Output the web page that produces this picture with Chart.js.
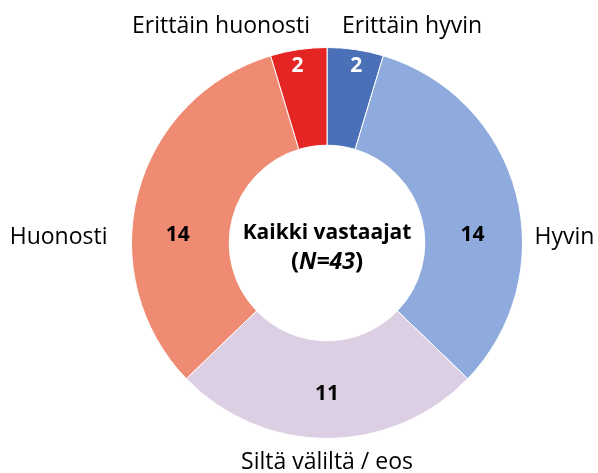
<!DOCTYPE html>
<html>
<head>
<meta charset="utf-8">
<script src="https://cdn.jsdelivr.net/npm/chart.js@4.4.1/dist/chart.umd.min.js"></script>
<style>
  html, body { margin: 0; padding: 0; background: #fff; }
  #wrap { width: 598px; height: 473px; }
</style>
</head>
<body>
<div id="wrap"><canvas id="myChart" width="598" height="473"></canvas></div>
<script>
// data
const categories = ["Erittäin hyvin", "Hyvin", "Siltä väliltä / eos", "Huonosti", "Erittäin huonosti"];
const counts = [2, 14, 11, 14, 2];
const sliceColors = ["#4A70B8", "#8FAADC", "#DDCFE3", "#F08B73", "#E42523"];
const valueColors = ["#fff", "#000", "#000", "#000", "#fff"];
const centerTitle = "Kaikki vastaajat";
const totalN = counts.reduce((a, b) => a + b, 0);

const FONT = "'Open Sans', sans-serif";

// where the value numbers sit: angle from top (deg) and radius fraction (Excel-like)
const valuePos = [
  { ang: 9.4, r: 0.92 },
  { ang: 87, r: 0.745 },
  { ang: 180, r: 0.77 },
  { ang: -87, r: 0.765 },
  { ang: -9.4, r: 0.92 },
];

const labelsPlugin = {
  id: "labelsPlugin",
  afterDraw(chart) {
    const ctx = chart.ctx;
    const arc = chart.getDatasetMeta(0).data[0];
    const cx = arc.x, cy = arc.y, R = arc.outerRadius;
    ctx.save();
    ctx.textBaseline = "middle";

    // numbers inside the ring
    ctx.font = "bold 21px " + FONT;
    ctx.textAlign = "center";
    counts.forEach((v, i) => {
      const a = valuePos[i].ang * Math.PI / 180;
      const r = valuePos[i].r * R;
      ctx.fillStyle = valueColors[i];
      ctx.fillText(String(v), cx + r * Math.sin(a), cy - r * Math.cos(a));
    });

    // category labels outside
    ctx.font = "23px " + FONT;
    ctx.fillStyle = "#000";
    ctx.textAlign = "left";
    ctx.fillText(categories[0], cx + 15, cy - R - 21);
    ctx.fillText(categories[1], cx + R + 12, cy - 6);
    ctx.textAlign = "center";
    ctx.fillText(categories[2], cx, cy + R + 24);
    ctx.textAlign = "right";
    ctx.fillText(categories[3], cx - R - 24, cy - 6);
    ctx.fillText(categories[4], cx - 17, cy - R - 21);

    // center text
    ctx.textAlign = "center";
    ctx.font = "bold 21px " + FONT;
    ctx.fillText(centerTitle, cx, cy - 10);

    const parts = [
      { t: "(", f: "bold 24px " + FONT },
      { t: "N=" + totalN, f: "italic bold 23px " + FONT },
      { t: ")", f: "bold 24px " + FONT },
    ];
    let w = 0;
    parts.forEach(p => { ctx.font = p.f; p.w = ctx.measureText(p.t).width; w += p.w; });
    let x = cx - w / 2;
    ctx.textAlign = "left";
    parts.forEach(p => { ctx.font = p.f; ctx.fillText(p.t, x, cy + 19); x += p.w; });

    ctx.restore();
  },
};

document.addEventListener("DOMContentLoaded", function () {
  const canvas = document.getElementById("myChart");
  const ctx = canvas.getContext("2d");

  new Chart(ctx, {
    type: "doughnut",
    data: {
      labels: categories,
      datasets: [{
        data: counts,
        backgroundColor: sliceColors,
        borderColor: "#fff",
        borderWidth: 1,
      }],
    },
    options: {
      responsive: false,
      animation: false,
      cutout: "50%",
      layout: { padding: { left: 131, right: 75, top: 47, bottom: 34 } },
      plugins: {
        legend: { display: false },
        tooltip: { enabled: false },
      },
    },
    plugins: [labelsPlugin],
  });
});
</script>
</body>
</html>
